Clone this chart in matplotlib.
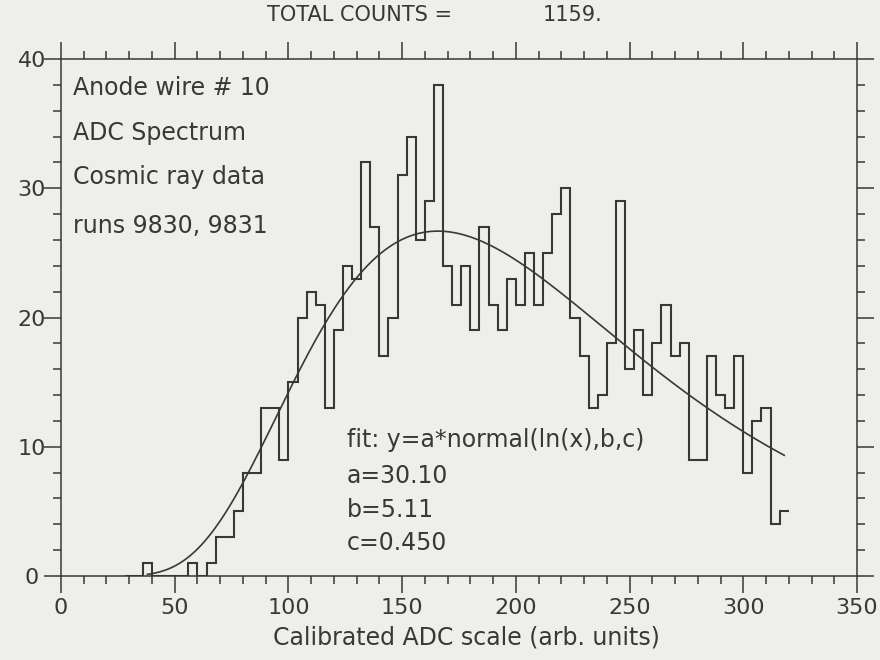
import numpy as np
import matplotlib
matplotlib.use("Agg")
import matplotlib.pyplot as plt
from matplotlib.ticker import MultipleLocator

# histogram: bin edges 28..320, 4 units wide
bin_lo = 28
bin_w = 4
counts = [0, 0, 1, 0, 0, 0, 0, 1, 0, 1,
          3, 3, 5, 8, 8, 13, 13, 9, 15, 20,
          22, 21, 13, 19, 24, 23, 32, 27, 17, 20,
          31, 34, 26, 29, 38, 24, 21, 24, 19, 27,
          21, 19, 23, 21, 25, 21, 25, 28, 30, 20,
          17, 13, 14, 18, 29, 16, 19, 14, 18, 21,
          17, 18, 9, 9, 17, 14, 13, 17, 8, 12,
          13, 4, 5]
edges = bin_lo + bin_w * np.arange(len(counts) + 1)

# fit parameters printed on the plot
fit_a = 30.10
fit_b = 5.11
fit_c = 0.450
fit_x0, fit_x1 = 38, 318

total_counts = "1159."
info_lines = ["Anode wire # 10", "ADC Spectrum", "Cosmic ray data", "runs 9830, 9831"]
fit_lines = ["fit: y=a*normal(ln(x),b,c)", "a=30.10", "b=5.11", "c=0.450"]

ink = "#383838"
paper = "#eeeeea"
plt.rcParams['font.family'] = ['DejaVu Sans']

fig = plt.figure(figsize=(8.8, 6.6), dpi=100, facecolor=paper)
ax = fig.add_axes([61/880, 1 - 576/660, (857-61)/880, (576-59)/660])
ax.set_facecolor(paper)

ax.stairs(counts, edges, baseline=None, color=ink, lw=1.5)

xf = np.linspace(fit_x0, fit_x1, 400)
yf = fit_a / (fit_c * np.sqrt(2*np.pi)) * np.exp(-(np.log(xf) - fit_b)**2 / (2*fit_c**2))
ax.plot(xf, yf, color=ink, lw=1.2)

ax.set_xlim(0, 350)
ax.set_ylim(0, 40)
ax.xaxis.set_major_locator(MultipleLocator(50))
ax.xaxis.set_minor_locator(MultipleLocator(10))
ax.yaxis.set_major_locator(MultipleLocator(10))
ax.yaxis.set_minor_locator(MultipleLocator(2))
ax.tick_params(which='both', direction='out', top=True, right=True,
               color=ink, width=1.1, labelcolor=ink, labelsize=16)
ax.tick_params(which='major', length=12)
ax.tick_params(which='minor', length=6)
ax.tick_params(axis='x', pad=4)
ax.tick_params(axis='y', pad=9)
for lab in ax.get_yticklabels():
    lab.set_horizontalalignment('center')
for sp in ax.spines.values():
    sp.set_color(ink)
    sp.set_linewidth(1.1)

def px(x, y):
    return x / 880, 1 - y / 660

fig.text(*px(267, 15), "TOTAL COUNTS =", fontsize=15, color=ink, va='center')
fig.text(*px(543, 15), total_counts, fontsize=15, color=ink, va='center')

for i, s in enumerate(info_lines):
    fig.text(*px(73, [88, 133, 177, 226][i]), s, fontsize=17, color=ink, va='center')
for i, s in enumerate(fit_lines):
    fig.text(*px(347, [440, 476, 510, 543][i]), s, fontsize=17, color=ink, va='center')

fig.text(*px(466, 638), "Calibrated ADC scale (arb. units)", fontsize=17,
         color=ink, ha='center', va='center')

fig.savefig("out.png", dpi=100, facecolor=paper)
